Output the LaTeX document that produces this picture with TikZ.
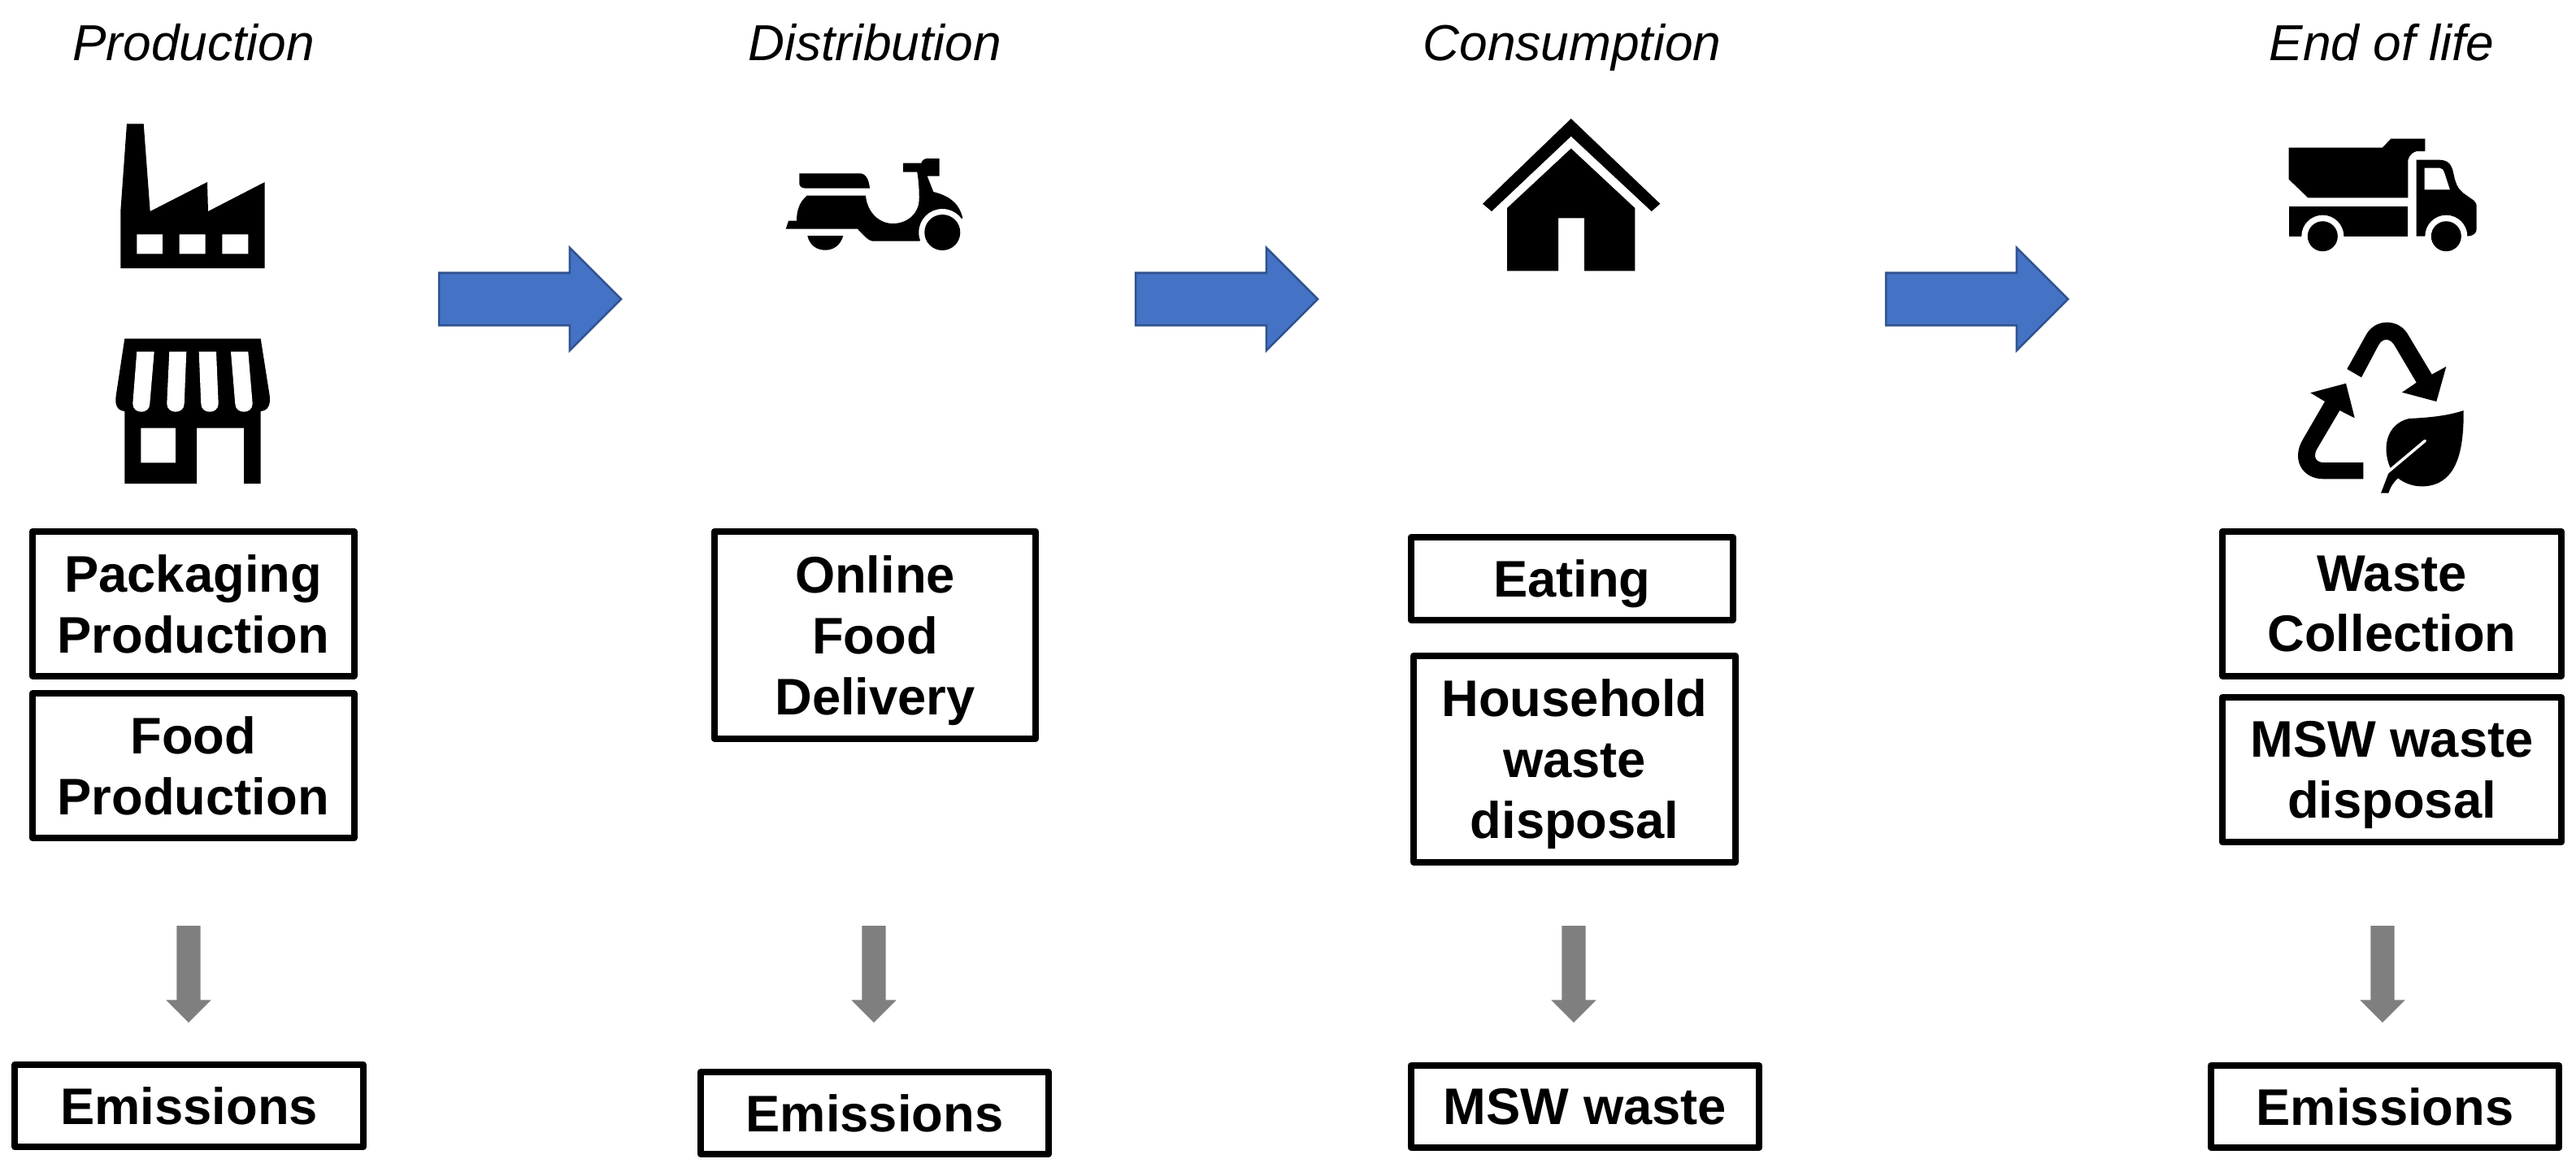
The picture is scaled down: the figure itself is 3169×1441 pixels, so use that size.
\documentclass[tikz,border=0pt]{standalone}
\usepackage{fontspec}
\setmainfont{Liberation Sans}
\usetikzlibrary{shapes.arrows}
\definecolor{arrowblue}{HTML}{4472C4}
\definecolor{arrowedge}{HTML}{2F528F}
\definecolor{arrowgrey}{HTML}{7F7F7F}
\tikzset{
title/.style={font=\itshape\fontsize{17.7}{21.3}\selectfont,inner sep=0pt,text depth=0pt},
stagebox/.style={draw,line width=0.08cm,line join=round,outer sep=0pt,inner sep=0pt,align=center,text depth=0pt,font=\bfseries\fontsize{18}{21.3}\selectfont},
stagearrow/.style={single arrow,anchor=tail,fill=arrowblue,draw=arrowedge,line width=0.025cm,inner xsep=0pt,inner ysep=0.31cm,outer sep=0pt,minimum height=2.24cm,single arrow head extend=0.31cm,single arrow tip angle=90},
wastearrow/.style={single arrow,anchor=tail,shape border rotate=270,fill=arrowgrey,inner ysep=0pt,inner xsep=0.14cm,outer sep=0pt,minimum height=1.19cm,single arrow head extend=0.13cm,single arrow tip angle=90}
}
\begin{document}
\begin{tikzpicture}[x=0.01cm,y=-0.01cm]
\useasboundingbox (0,0) rectangle (3169,1441);

\node[title] (prodT) at (238,52) {Production};
\node[title] (distT) at (1076,52) {Distribution};
\node[title] (consT) at (1934,52) {Consumption};
\node[title] (endT) at (2930,52) {End of life};

% production
\node[stagebox,minimum width=3.955cm,minimum height=1.775cm] (packB) at (237.7,742.7) {Packaging\\Production};
\node[stagebox,minimum width=3.955cm,minimum height=1.775cm] (foodB) at (237.7,942.2) {Food\\Production};
\node[stagebox,minimum width=4.287cm,minimum height=1.007cm] (emisA) at (232.8,1360.8) {Emissions};
% distribution
\node[stagebox,minimum width=3.95cm,minimum height=2.545cm] (onlineB) at (1076.5,781.2) {Online\\Food\\Delivery};
\node[stagebox,minimum width=4.28cm,minimum height=1.01cm] (emisB) at (1076,1369.5) {Emissions};
% consumption
\node[stagebox,minimum width=3.955cm,minimum height=1.02cm] (eatB) at (1933.7,712) {Eating};
\node[stagebox,minimum width=3.952cm,minimum height=2.54cm] (houseB) at (1937.1,933.7) {Household\\waste\\disposal};
\node[stagebox,minimum width=4.28cm,minimum height=1.01cm] (mswB) at (1950,1361.5) {MSW waste};
% end of life
\node[stagebox,minimum width=4.17cm,minimum height=1.775cm] (collB) at (2942.5,742.7) {Waste\\Collection};
\node[stagebox,minimum width=4.17cm,minimum height=1.777cm] (dispB) at (2942.5,947.2) {MSW waste\\disposal};
\node[stagebox,minimum width=4.28cm,minimum height=1.01cm] (emisC) at (2934,1361.5) {Emissions};

\node[stagearrow] (arrA) at (540,368) {};
\node[stagearrow] (arrB) at (1397,368) {};
\node[stagearrow] (arrC) at (2320,368) {};

\node[wastearrow] (dropA) at (232,1139) {};
\node[wastearrow] (dropB) at (1075,1139) {};
\node[wastearrow] (dropC) at (1936,1139) {};
\node[wastearrow] (dropD) at (2931,1139) {};

% factory
\fill[even odd rule] (156,152.3)--(176.7,152.3)--(184.7,260)--(255,224)--(256,260)--(325.7,224)--(325.7,330)--(148.3,330)--(148.3,260)--cycle
(168.3,288.3) rectangle (200,312.3)
(220.7,288.3) rectangle (252.7,312.3)
(273.3,288.3) rectangle (305.3,312.3);

% shop
\fill[even odd rule] (153.3,416.7)--(320.7,416.7)--(331.7,486.7) .. controls (333,498) and (330,505) .. (320.7,506)--(320.7,595)--(300,595)--(300,526.7)--(242,526.7)--(242,595)--(153.3,595)--(153.3,506) .. controls (144,505) and (141,498) .. (142.7,486.7)--cycle
(173.3,526.7) rectangle (216,569.3);
\foreach \a/\b/\c/\d in {168.3/189.7/184.3/163.3,208.3/229.3/226.7/205.3,244.7/266/268.7/247.3,284/305.3/310.7/289.3}
\fill[white] (\a,432.7)--(\b,432.7)--(\c,496.7) .. controls (\c,510) and (\d,510) .. (\d,496.7)--cycle;

% scooter
\fill (983.3,213.3)--(1058.3,213.3) .. controls (1066,214) and (1069,222) .. (1070,231.7)--(990,231.7) .. controls (985,231) and (983,228) .. (983.3,225)--cycle;
\fill (992.7,240.7)--(1065,240.7) .. controls (1067,262) and (1082,275) .. (1098.3,275) .. controls (1117,275) and (1130,262) .. (1130.7,246.7) .. controls (1131,234) and (1130,222) .. (1128.3,211.7)--(1111,211.7)--(1111,200.7)--(1133.3,200.7) .. controls (1135,196) and (1138,195) .. (1142,195)--(1155.7,195)--(1155.7,216.7)--(1140.7,216.7)--(1148.3,236) .. controls (1168,241) and (1180,250) .. (1184.3,268.3)--(1159,280)--(1130.7,296.7)--(1073.3,296.7) .. controls (1068,296) and (1063,290) .. (1055,281.7)--(966.7,281.7)--(970,271.7)--(980,271.7) .. controls (980,258) and (984,248) .. (992.7,240.7)--cycle;
\fill[white] (1159.3,286) circle[radius=29];
\fill (1159.3,286) circle[radius=22];
\fill (993.3,290)--(1037.3,290) .. controls (1034,302) and (1025,307.7) .. (1015.3,307.7) .. controls (1005,307.7) and (996,302) .. (993.3,290)--cycle;

% house
\fill (1932.7,146)--(2042.3,250.7)--(2031.7,260)--(1932.7,167.7)--(1835,260)--(1824,250.7)--cycle;
\fill (1932.7,182.7)--(2011.3,256)--(2011.3,333.3)--(1949,333.3)--(1949,268.3)--(1917,268.3)--(1917,333.3)--(1854,333.3)--(1854,256)--cycle;

% truck
\fill (2815.7,181.7)--(2930.7,181.7)--(2941.3,170.7)--(2983.3,170.7)--(2983.3,186)--(2973.3,186) .. controls (2968,187) and (2964,191) .. (2962.3,196.7)--(2962.3,243.3)--(2839.3,243.3)--(2815.7,220.7)--cycle;
\fill (2815.7,254) rectangle (2962.3,290.7);
\fill[even odd rule] (2972.7,196.7)--(3001.7,196.7) .. controls (3012,197) and (3016,203) .. (3018,212) .. controls (3020,222) and (3022,228) .. (3025,232)--(3030,237.3)--(3043.3,246.7) .. controls (3046,249) and (3046.7,251) .. (3046.7,255)--(3046.7,281.7) .. controls (3046.7,287) and (3042,290.7) .. (3035,290.7)--(2972.7,290.7)--cycle
(2982.7,206.7)--(3001.7,206.7) .. controls (3005,207) and (3006,209) .. (3007,212)--(3014,233.3)--(2982.7,233.3)--cycle;
\foreach \w in {2857.3,3009.3} {
\fill[white] (\w,290.7) circle[radius=26];
\fill[white] (\w-26,290.7) rectangle (\w+26,300);
\fill (\w,290.7) circle[radius=18.5];
}

% recycling
\fill (2887.3,454)--(2910,413.3) .. controls (2921,391) and (2952,391) .. (2963.3,413.3)--(2991.7,460.7)--(3009.3,451)--(2997.3,494)--(2955,482.7)--(2972.7,470.7)--(2946.7,426.7) .. controls (2941,415) and (2930,415) .. (2925,426.7)--(2905,464.3)--cycle;
\fill (2886,471.7)--(2842.3,483.3)--(2860,494)--(2833.3,540) .. controls (2818,565) and (2832,589.3) .. (2858.3,589.3)--(2907.3,589.3)--(2907.3,569)--(2858.3,569) .. controls (2850,569) and (2845,563) .. (2850,553)--(2878.3,505)--(2896.7,514.3)--cycle;
\fill (3030.7,505) .. controls (3010,512) and (2985,514) .. (2963.3,515) .. controls (2935,522) and (2930,552) .. (2940.7,576)--(2929,606.7)--(2938.3,606.7) .. controls (2941,598) and (2945,593) .. (2950,588.3) .. controls (2965,600) and (2985,601) .. (3000,594) .. controls (3024,582) and (3031,550) .. (3030.7,505)--cycle;
\draw[white,line width=0.035cm,line cap=round] (2983.3,542.3)--(2936,582);

\end{tikzpicture}
\end{document}
